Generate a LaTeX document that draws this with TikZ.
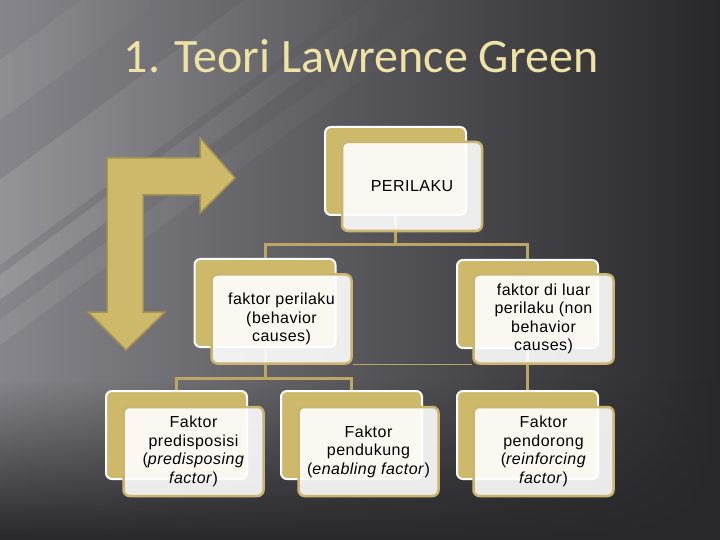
\documentclass[tikz,border=0pt]{standalone}
\usepackage{fontspec}
\setmainfont{Liberation Sans}
\newfontfamily\boxfont{Liberation Sans}[LetterSpace=3]
\newfontfamily\titlefont{Carlito}
\usetikzlibrary{calc,fadings}

\definecolor{bgdark}{HTML}{28282B}
\definecolor{bgmid}{HTML}{4A4A4F}
\definecolor{bglight}{HTML}{85858B}
\definecolor{boxgold}{HTML}{CDB969}
\definecolor{edgegold}{HTML}{C9B570}
\definecolor{linkgold}{HTML}{BBA763}
\definecolor{titlegold}{HTML}{F0E2A4}
\definecolor{arrowedge}{HTML}{A39452}

\tikzset{
  backbox/.style={draw=white, line width=2bp, fill=boxgold, rounded corners=6bp,
    minimum width=141bp, minimum height=88bp},
  frontbox/.style={draw=edgegold, line width=2.5bp, fill=white, fill opacity=0.9,
    text opacity=1, rounded corners=6bp, minimum width=140bp, minimum height=89bp,
    align=center, font=\boxfont\fontsize{16bp}{18.5bp}\selectfont},
  link/.style={draw=linkgold, line width=3bp},
}

\begin{document}
\begin{tikzpicture}[x=1bp,y=-1bp]

    % background
    \useasboundingbox (0,0) rectangle (720,540);
    \shade[left color=bglight, middle color=bgmid, right color=bgdark] (0,0) rectangle (720,540);
    \foreach \a/\b/\o in {60/120/0.08, 180/265/0.12, 275/300/0.14, 320/345/0.08}
    \fill[white, fill opacity=\o, path fading=east] (0,\a) -- (0,\b) -- (1.36*\b,0) -- (1.36*\a,0) -- cycle;
    \fill[bgdark, path fading=north] (0,380) rectangle (720,540);

    % title
    \node[anchor=base, text=titlegold, font=\titlefont\fontsize{48bp}{50bp}\selectfont] (title) at (361,73) {1. Teori Lawrence Green};

    % bent arrow
    \filldraw[fill=boxgold, draw=arrowedge, line width=1.5bp]
      (107,158) -- (200,158) -- (200,138) -- (235,178) -- (200,213) -- (200,195)
      -- (143,195) -- (143,312) -- (165,312) -- (126,350) -- (88,312) -- (107,312) -- cycle;

    % back boxes
    \foreach \nm/\x/\y in {per/395.5/171, beh/265/303, nbeh/527.5/304, pre/176.5/435, ena/351.5/435, rei/527.5/435}
    \node[backbox] (\nm B) at (\x,\y) {};

    % links
    \draw[link] (perB.south) -- ++(0,28) -| (behB.north);
    \draw[link] (perB.south) -- ++(0,28) -| (nbehB.north);
    \draw[link] (behB.south) -- ++(0,30) -| (preB.north);
    \draw[link] (behB.south) -- ++(0,30) -| (enaB.north);
    \draw[link] (nbehB.south) -- (reiB.north);

    % front boxes
    \node[frontbox] (per) at (412,186.5) {PERILAKU};
    \node[frontbox] (beh) at (281.5,319) {faktor perilaku\\(behavior\\causes)};
    \node[frontbox] (nbeh) at (543.5,319) {faktor di luar\\perilaku (non\\behavior\\causes)};
    \node[frontbox] (pre) at (193.5,451.5) {Faktor\\predisposisi\\(\textit{predisposing}\\\textit{factor})};
    \node[frontbox] (ena) at (368.5,451.5) {Faktor\\pendukung\\(\textit{enabling factor})};
    \node[frontbox] (rei) at (543.5,451.5) {Faktor\\pendorong\\(\textit{reinforcing}\\\textit{factor})};

    \draw[linkgold, line width=1bp] (beh.south east) -- (nbeh.south west);

\end{tikzpicture}
\end{document}
